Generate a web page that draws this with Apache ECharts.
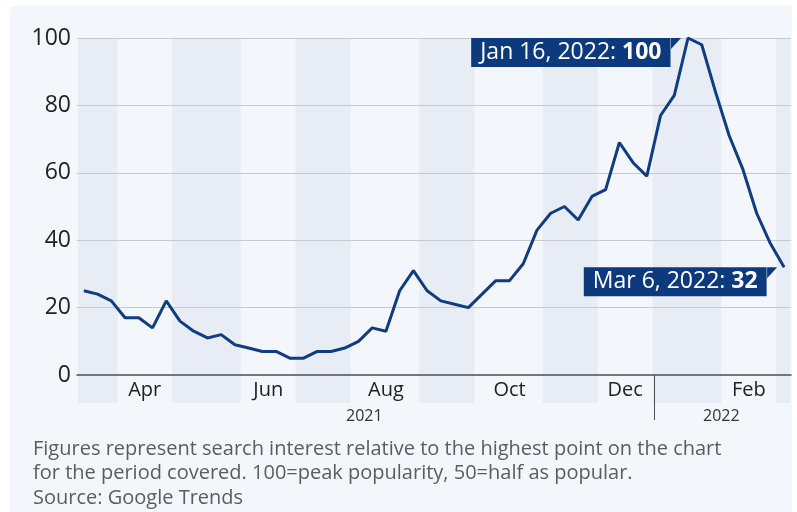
<!DOCTYPE html>
<html>
<head>
<meta charset="utf-8">
<script src="https://cdn.jsdelivr.net/npm/echarts@6/dist/echarts.min.js"></script>
<style>
  html, body { margin: 0; padding: 0; background: #ffffff; }
  #wrap { position: relative; width: 797px; height: 512px; background: #ffffff; overflow: hidden; }
  #chart { position: absolute; left: 10px; top: 6px; width: 782px; height: 506px; background: #f3f6fa; }
</style>
</head>
<body>
<div id="wrap"><div id="chart"></div></div>
<script>
// ---- data ----
const firstWeek = '2021-03-14';           // first weekly observation (Sunday)
const interest = [25, 24, 22, 17, 17, 14, 22, 16, 13, 11, 12, 9, 8, 7, 7, 5, 5, 7, 7, 8,
                  10, 14, 13, 25, 31, 25, 22, 21, 20, 24, 28, 28, 33, 43, 48, 50, 46, 53, 55, 69,
                  63, 59, 77, 83, 100, 98, 84, 71, 61, 48, 39, 32];
const monthNames = ['Jan','Feb','Mar','Apr','May','Jun','Jul','Aug','Sep','Oct','Nov','Dec'];
const labelledMonths = ['2021-04','2021-06','2021-08','2021-10','2021-12','2022-02'];
const shadedMonths = ['2021-03','2021-05','2021-07','2021-09','2021-11','2022-01','2022-03'];
const years = ['2021', '2022'];
const yTicks = [0, 20, 40, 60, 80, 100];
const callouts = [
  { date: '2022-01-16', text: 'Jan 16, 2022: ' },
  { date: '2022-03-06', text: 'Mar 6, 2022: ' }
];
const footer = 'Figures represent search interest relative to the highest point on the chart\nfor the period covered. 100=peak popularity, 50=half as popular.\nSource: Google Trends';

// ---- helpers ----
const DAY = 86400000;
function fmt(d) {
  const m = String(d.getUTCMonth() + 1).padStart(2, '0');
  const day = String(d.getUTCDate()).padStart(2, '0');
  return d.getUTCFullYear() + '-' + m + '-' + day;
}
function parse(s) { const p = s.split('-'); return new Date(Date.UTC(+p[0], +p[1] - 1, +p[2])); }
function shift(s, n) { return fmt(new Date(parse(s).getTime() + n * DAY)); }

const weekDates = interest.map((v, i) => shift(firstWeek, i * 7));
// daily axis: each weekly value sits in the middle of its own 7-day slot
const days = [];
for (let i = 0; i < weekDates.length * 7; i++) days.push(shift(firstWeek, i - 3));
const seriesData = weekDates.map((d, i) => [d, interest[i]]);

function weeksOf(prefix) { return weekDates.filter(d => d.startsWith(prefix)); }
function clampDay(s) { return s < days[0] ? days[0] : (s > days[days.length - 1] ? days[days.length - 1] : s); }
function midDay(ws) {
  const a = parse(ws[0]).getTime(), b = parse(ws[ws.length - 1]).getTime();
  return fmt(new Date(a + Math.floor((b - a) / 2 / DAY) * DAY));
}

const bands = shadedMonths.map(ym => {
  const ws = weeksOf(ym);
  return [{ xAxis: clampDay(shift(ws[0], -4)) }, { xAxis: clampDay(shift(ws[ws.length - 1], 3)) }];
});
const monthLabelDays = {};
labelledMonths.forEach(ym => { monthLabelDays[midDay(weeksOf(ym))] = monthNames[+ym.slice(5, 7) - 1]; });
const yearLabelDays = {};
years.forEach(y => { yearLabelDays[midDay(weeksOf(y))] = y; });
const yearBreakDay = shift(weeksOf(years[1])[0], -3);

const FONT = '"Open Sans", "Noto Sans", sans-serif';
const navy = '#0d3a7d';
const GAP = 17, BOX_H = 29;

const markPoints = [];
callouts.forEach(c => {
  const v = interest[weekDates.indexOf(c.date)];
  markPoints.push({
    coord: [c.date, v],
    symbol: 'circle', symbolSize: 1,
    itemStyle: { color: 'rgba(0,0,0,0)' },
    label: {
      show: true, position: 'left', distance: GAP, offset: [0, BOX_H / 2],
      backgroundColor: navy, padding: [1, 9, 1, 9],
      formatter: '{a|' + c.text + '}{b|' + v + '}',
      rich: {
        a: { color: '#ffffff', fontSize: 23, fontFamily: FONT, fontWeight: 'normal', lineHeight: 27 },
        b: { color: '#ffffff', fontSize: 23, fontFamily: FONT, fontWeight: 'bold', lineHeight: 27 }
      }
    }
  });
  markPoints.push({
    coord: [c.date, v],
    symbol: 'path://M0,0 L10,0 L0,11 Z', symbolSize: [10, 11],
    symbolOffset: [-GAP + 5, 5.5],
    itemStyle: { color: navy },
    label: { show: false }
  });
});

const chart = echarts.init(document.getElementById('chart'), null, { renderer: 'canvas' });
chart.setOption({
  animation: false,
  backgroundColor: '#f3f6fa',
  title: {
    text: footer, left: 18, top: 426,
    textStyle: { fontFamily: FONT, fontSize: 20, fontWeight: 'normal', color: '#595d63', lineHeight: 24.5 }
  },
  grid: { left: 67, right: 1, top: 32, bottom: 109, containLabel: false },
  xAxis: [{
    type: 'category', data: days, boundaryGap: true, z: 10,
    axisLine: { show: true, onZero: true, lineStyle: { color: '#4a4f55', width: 1.5 } },
    axisTick: { show: true, alignWithLabel: true, interval: (i, v) => v === yearBreakDay, length: 45,
                lineStyle: { color: '#4a4f55', width: 1 } },
    axisLabel: {
      interval: (i, v) => monthLabelDays[v] !== undefined,
      formatter: v => monthLabelDays[v] || '',
      color: '#222', fontSize: 20, fontFamily: FONT, margin: -23
    },
    splitLine: { show: false }
  }, {
    type: 'category', data: days, boundaryGap: true, position: 'bottom', z: 10,
    axisLine: { show: false, onZero: false },
    axisTick: { show: false },
    axisLabel: {
      interval: (i, v) => yearLabelDays[v] !== undefined,
      formatter: v => yearLabelDays[v] || '',
      color: '#333', fontSize: 16, fontFamily: FONT, margin: 5
    },
    splitLine: { show: false }
  }],
  yAxis: {
    type: 'value', min: -8.3, max: 100,
    axisLine: { show: false }, axisTick: { show: false }, splitLine: { show: false },
    axisLabel: { customValues: yTicks, color: '#222', fontSize: 23, fontFamily: FONT, margin: 6 }
  },
  series: [{
    type: 'line', data: seriesData, xAxisIndex: 0,
    showSymbol: false, symbol: 'none', smooth: false,
    lineStyle: { color: '#0f3d80', width: 3 },
    z: 5,
    markArea: { silent: true, itemStyle: { color: '#e8edf5' }, data: bands },
    markLine: {
      silent: true, symbol: 'none', label: { show: false },
      lineStyle: { color: '#c6c9ce', width: 1, type: 'solid' },
      data: yTicks.filter(t => t > 0).map(t => ({ yAxis: t }))
    },
    markPoint: { silent: true, data: markPoints }
  }]
});
</script>
</body>
</html>
